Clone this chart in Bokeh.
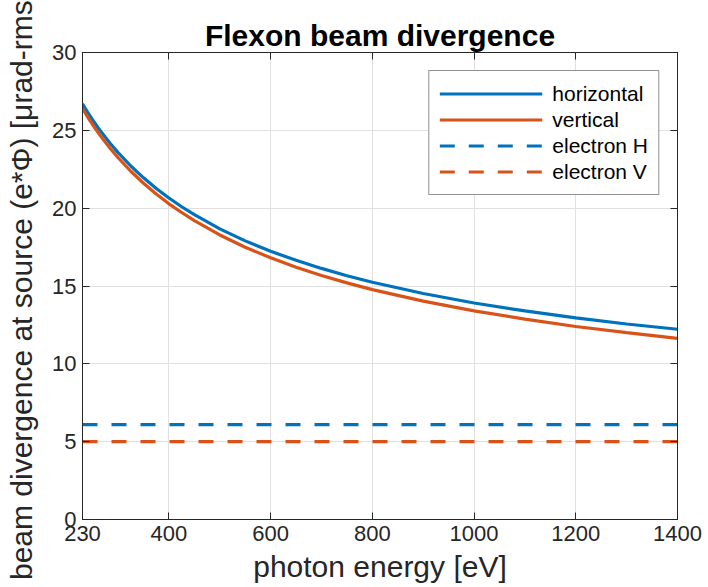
from bokeh.plotting import figure
from bokeh.models import LinearAxis, FixedTicker, Range1d, Legend, LegendItem
from bokeh.embed import file_html
from bokeh.resources import INLINE

# ---- data ----
energy = [230, 235, 240, 245, 250, 260, 265, 275, 285, 300, 325, 350, 375, 400, 425,
          450, 500, 550, 600, 650, 700, 750, 800, 900, 1000, 1100, 1200, 1300, 1400]
horizontal = [26.70, 26.43, 26.17, 25.92, 25.67, 25.20, 24.98, 24.55, 24.14, 23.57,
              22.71, 21.95, 21.26, 20.65, 20.09, 19.58, 18.67, 17.90, 17.23, 16.65,
              16.13, 15.66, 15.24, 14.52, 13.91, 13.40, 12.95, 12.56, 12.22]
vertical = [26.40, 26.13, 25.87, 25.61, 25.36, 24.89, 24.66, 24.23, 23.82, 23.24,
            22.37, 21.60, 20.91, 20.28, 19.72, 19.20, 18.28, 17.49, 16.81, 16.21,
            15.68, 15.20, 14.77, 14.03, 13.40, 12.87, 12.40, 12.00, 11.64]
electron_x = [230, 1400]
electron_h = [6.1, 6.1]
electron_v = [5.0, 5.0]
x_ticks = [230, 400, 600, 800, 1000, 1200, 1400]
y_ticks = [0, 5, 10, 15, 20, 25, 30]

BLUE = "#0072BD"
ORANGE = "#D95319"
AX = "#262626"
FONT = "Liberation Sans"

p = figure(width=708, height=587, output_backend="svg", toolbar_location=None,
           x_range=Range1d(230, 1400), y_range=Range1d(0, 30),
           min_border_left=82, min_border_right=31, min_border_top=52,
           min_border_bottom=68, background_fill_color="white",
           border_fill_color="white")

p.title.text = "Flexon beam divergence"
p.title.text_font = FONT
p.title.text_font_size = "30px"
p.title.text_font_style = "bold"
p.title.text_color = "black"
p.title.align = "center"
p.title.standoff = 2

r_h = p.line(energy, horizontal, line_color=BLUE, line_width=3.2)
r_v = p.line(energy, vertical, line_color=ORANGE, line_width=3.2)
r_eh = p.line(electron_x, electron_h, line_color=BLUE, line_width=3.2, line_dash="15 14")
r_ev = p.line(electron_x, electron_v, line_color=ORANGE, line_width=3.2, line_dash="15 14")

def style_axis(ax, ticks, labels=True):
    ax.ticker = FixedTicker(ticks=ticks)
    ax.axis_line_color = AX
    ax.axis_line_width = 1
    ax.major_tick_line_color = AX
    ax.major_tick_in = 7
    ax.major_tick_out = 0
    ax.minor_tick_line_color = None
    ax.major_label_text_font = FONT
    ax.major_label_text_color = AX
    ax.axis_label_text_font = FONT
    ax.axis_label_text_color = AX
    ax.axis_label_text_font_style = "normal"
    if labels:
        ax.major_label_text_font_size = "22px"
        ax.axis_label_text_font_size = "30px"
    else:
        ax.major_label_overrides = {t: "" for t in ticks}
        ax.major_label_text_font_size = "10px"
        ax.major_label_standoff = 0

xa = p.xaxis[0]
ya = p.yaxis[0]
style_axis(xa, x_ticks)
style_axis(ya, y_ticks)
xa.axis_label = "photon energy [eV]"
ya.axis_label = "beam divergence at source (e*Φ) [μrad-rms]"
xa.major_label_standoff = 6
ya.major_label_standoff = 6
xa.axis_label_standoff = 6
ya.axis_label_standoff = 11

top_ax = LinearAxis()
right_ax = LinearAxis()
style_axis(top_ax, x_ticks, labels=False)
style_axis(right_ax, y_ticks, labels=False)
p.add_layout(top_ax, "above")
p.add_layout(right_ax, "right")

p.xgrid.ticker = FixedTicker(ticks=x_ticks)
p.ygrid.ticker = FixedTicker(ticks=y_ticks)
p.xgrid.grid_line_color = "#e0e0e0"
p.ygrid.grid_line_color = "#e0e0e0"
p.outline_line_color = AX

legend = Legend(items=[
    LegendItem(label="horizontal", renderers=[r_h]),
    LegendItem(label="vertical", renderers=[r_v]),
    LegendItem(label="electron H", renderers=[r_eh]),
    LegendItem(label="electron V", renderers=[r_ev]),
], location="top_right")
legend.margin = 18
legend.padding = 10
legend.spacing = 1
legend.glyph_width = 103
legend.glyph_height = 25
legend.label_standoff = 10
legend.label_text_font = FONT
legend.label_text_font_size = "21px"
legend.label_text_color = "black"
legend.border_line_color = AX
legend.border_line_width = 1
legend.background_fill_color = "white"
legend.background_fill_alpha = 1
p.add_layout(legend, "center")

open("out.html", "w").write(file_html(p, INLINE))
